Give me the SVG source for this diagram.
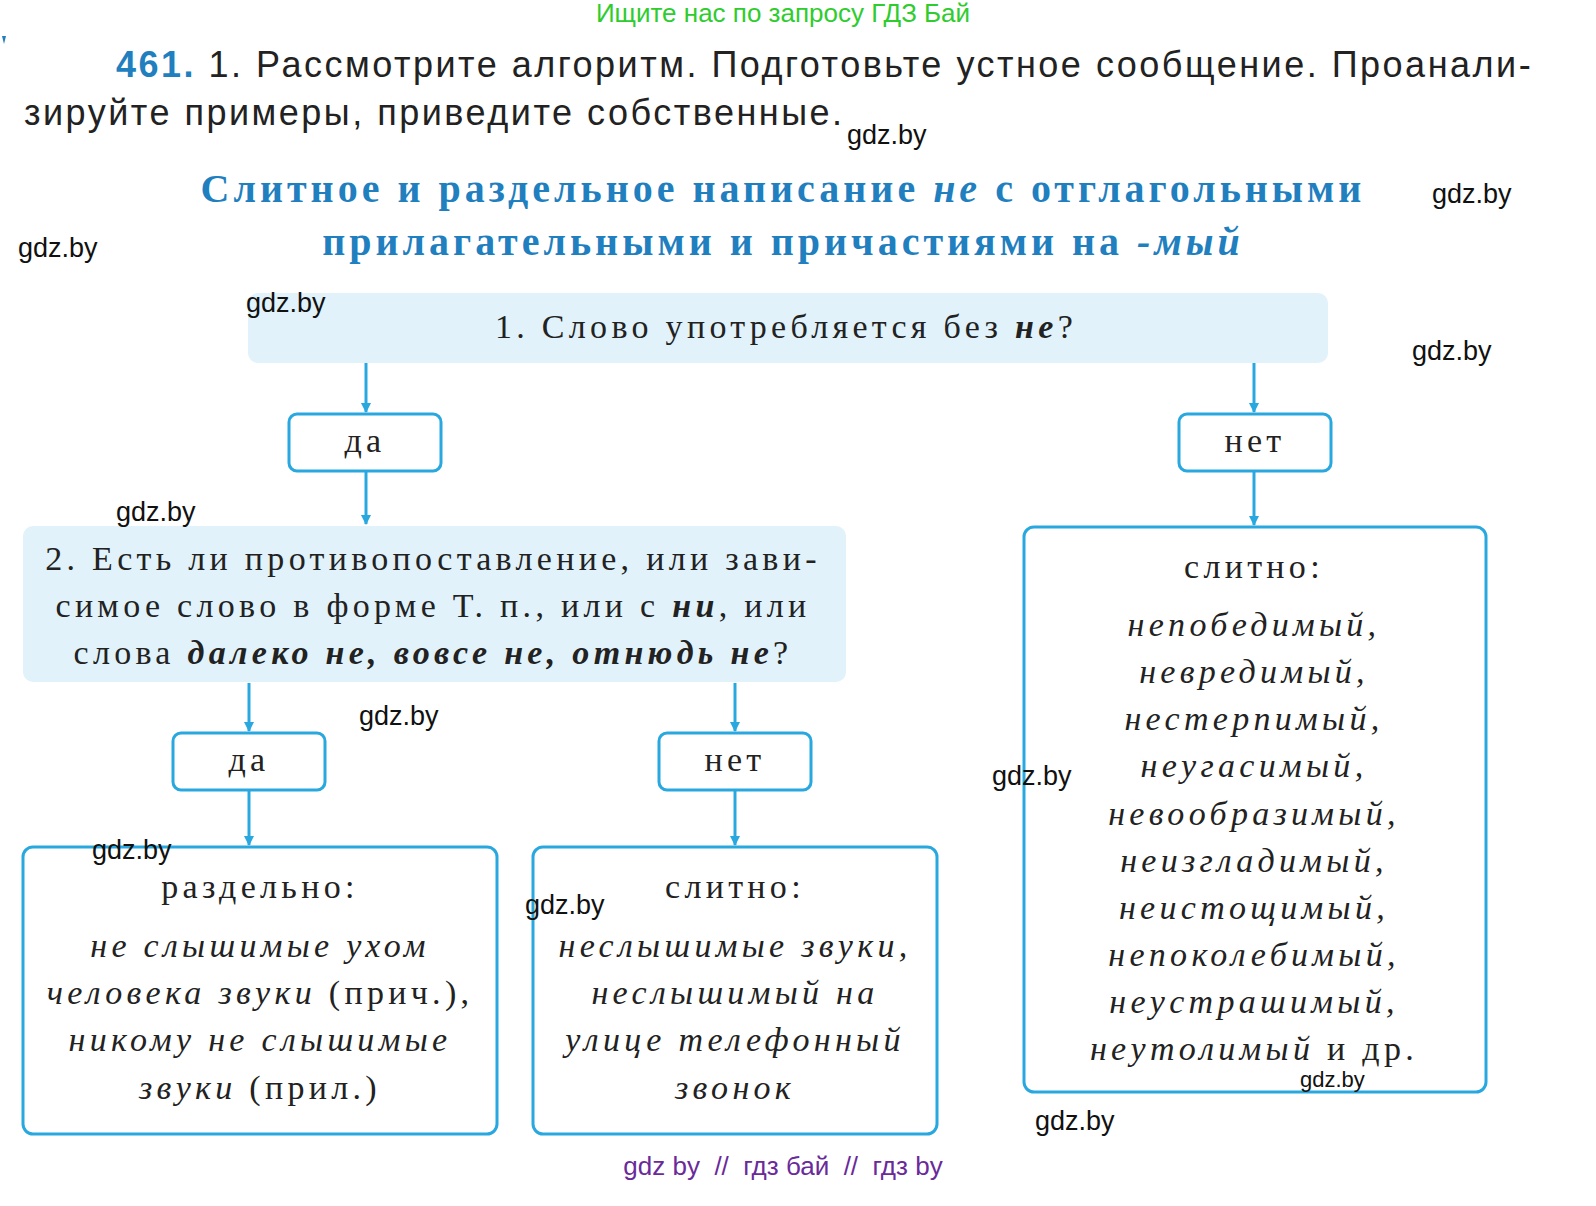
<svg xmlns="http://www.w3.org/2000/svg" width="1596" height="1206" viewBox="0 0 1596 1206">
<style>
.s{font-family:"Liberation Sans",Arial,sans-serif}
.r{font-family:"Liberation Serif","Times New Roman",serif;font-size:34px;fill:#222;text-anchor:middle;letter-spacing:4.3px}
.i{font-style:italic}
.b{font-weight:bold}
.w{font-family:"Liberation Sans",Arial,sans-serif;font-size:27px;fill:#111}
.fill{fill:#e1f2fb}
.box{fill:#fff;stroke:#29a8e0;stroke-width:3}
.ar{stroke:#29a8e0;stroke-width:3;fill:none;marker-end:url(#a)}
</style>
<defs><marker id="a" markerWidth="10" markerHeight="10" refX="9" refY="5" orient="auto" markerUnits="userSpaceOnUse" viewBox="0 0 10 10"><path d="M0,0 L10,5 L0,10 Z" fill="#29a8e0"/></marker></defs>
<rect width="1596" height="1206" fill="#fff"/>
<path d="M2,36 L6,36 L4,44 Z" fill="#1f7fbf"/>
<text x="783" y="22" class="s" font-size="26" fill="#2ecc2e" text-anchor="middle">Ищите нас по запросу ГДЗ Бай</text>
<text x="116" y="77" class="s" font-size="36" fill="#222" letter-spacing="2.5"><tspan fill="#1f7fbf" font-weight="bold">461.</tspan> 1. Рассмотрите алгоритм. Подготовьте устное сообщение. Проанали-</text>
<text x="24" y="125" class="s" font-size="36" fill="#222" letter-spacing="2.5">зируйте примеры, приведите собственные.</text>
<g font-family="Liberation Serif,serif" font-weight="bold" font-size="40" fill="#1f7fbf" text-anchor="middle" letter-spacing="4">
<text x="783" y="202">Слитное и раздельное написание <tspan font-style="italic">не</tspan> с отглагольными</text>
<text x="783" y="255">прилагательными и причастиями на <tspan font-style="italic">-мый</tspan></text>
</g>
<g id="q1"><rect x="248" y="293" width="1080" height="70" rx="10" class="fill"/><text x="786" y="338" class="r">1. Слово употребляется без <tspan class="i b">не</tspan>?</text></g>
<g id="yes1"><rect x="289" y="414" width="152" height="57" rx="8" class="box"/><text x="365" y="452" class="r">да</text></g>
<g id="no1"><rect x="1179" y="414" width="152" height="57" rx="8" class="box"/><text x="1255" y="452" class="r">нет</text></g>
<g id="q2"><rect x="23" y="526" width="823" height="156" rx="10" class="fill"/>
<text x="433" y="570" class="r">2. Есть ли противопоставление, или зави-</text>
<text x="433" y="617" class="r">симое слово в форме Т. п., или с <tspan class="i b">ни</tspan>, или</text>
<text x="433" y="664" class="r">слова <tspan class="i b">далеко не, вовсе не, отнюдь не</tspan>?</text></g>
<g id="res1"><rect x="1024" y="527" width="462" height="565" rx="10" class="box"/>
<text x="1254" y="578" class="r">слитно:</text>
<g class="r i"><text x="1254" y="636">непобедимый,</text><text x="1254" y="683">невредимый,</text><text x="1254" y="730">нестерпимый,</text><text x="1254" y="777">неугасимый,</text><text x="1254" y="825">невообразимый,</text><text x="1254" y="872">неизгладимый,</text><text x="1254" y="919">неистощимый,</text><text x="1254" y="966">непоколебимый,</text><text x="1254" y="1013">неустрашимый,</text></g>
<text x="1254" y="1060" class="r"><tspan class="i">неутолимый</tspan> и др.</text></g>
<g id="yes2"><rect x="173" y="733" width="152" height="57" rx="8" class="box"/><text x="249" y="771" class="r">да</text></g>
<g id="no2"><rect x="659" y="733" width="152" height="57" rx="8" class="box"/><text x="735" y="771" class="r">нет</text></g>
<g id="res2"><rect x="23" y="847" width="474" height="287" rx="10" class="box"/>
<text x="260" y="898" class="r">раздельно:</text>
<text x="260" y="957" class="r i">не слышимые ухом</text>
<text x="260" y="1004" class="r"><tspan class="i">человека звуки</tspan> (прич.),</text>
<text x="260" y="1051" class="r i">никому не слышимые</text>
<text x="260" y="1099" class="r"><tspan class="i">звуки</tspan> (прил.)</text></g>
<g id="res3"><rect x="533" y="847" width="404" height="287" rx="10" class="box"/>
<text x="735" y="898" class="r">слитно:</text>
<g class="r i"><text x="735" y="957">неслышимые звуки,</text><text x="735" y="1004">неслышимый на</text><text x="735" y="1051">улице телефонный</text><text x="735" y="1099">звонок</text></g></g>
<g id="connectors">
<line x1="366" y1="363" x2="366" y2="412" class="ar"/>
<line x1="1254" y1="363" x2="1254" y2="412" class="ar"/>
<line x1="366" y1="471" x2="366" y2="524" class="ar"/>
<line x1="1254" y1="471" x2="1254" y2="525" class="ar"/>
<line x1="249" y1="683" x2="249" y2="731" class="ar"/>
<line x1="735" y1="683" x2="735" y2="731" class="ar"/>
<line x1="249" y1="790" x2="249" y2="845" class="ar"/>
<line x1="735" y1="790" x2="735" y2="845" class="ar"/>
</g>
<g class="w">
<text x="847" y="144">gdz.by</text><text x="1432" y="203">gdz.by</text><text x="18" y="257">gdz.by</text><text x="246" y="312">gdz.by</text><text x="1412" y="360">gdz.by</text><text x="116" y="521">gdz.by</text><text x="359" y="725">gdz.by</text><text x="992" y="785">gdz.by</text><text x="92" y="859">gdz.by</text><text x="525" y="914">gdz.by</text><text x="1035" y="1130">gdz.by</text><text x="1300" y="1087" font-size="22">gdz.by</text>
</g>
<text x="783" y="1175" class="s" font-size="26" fill="#6a2a9a" text-anchor="middle" xml:space="preserve">gdz by  //  гдз бай  //  гдз by</text>
</svg>
